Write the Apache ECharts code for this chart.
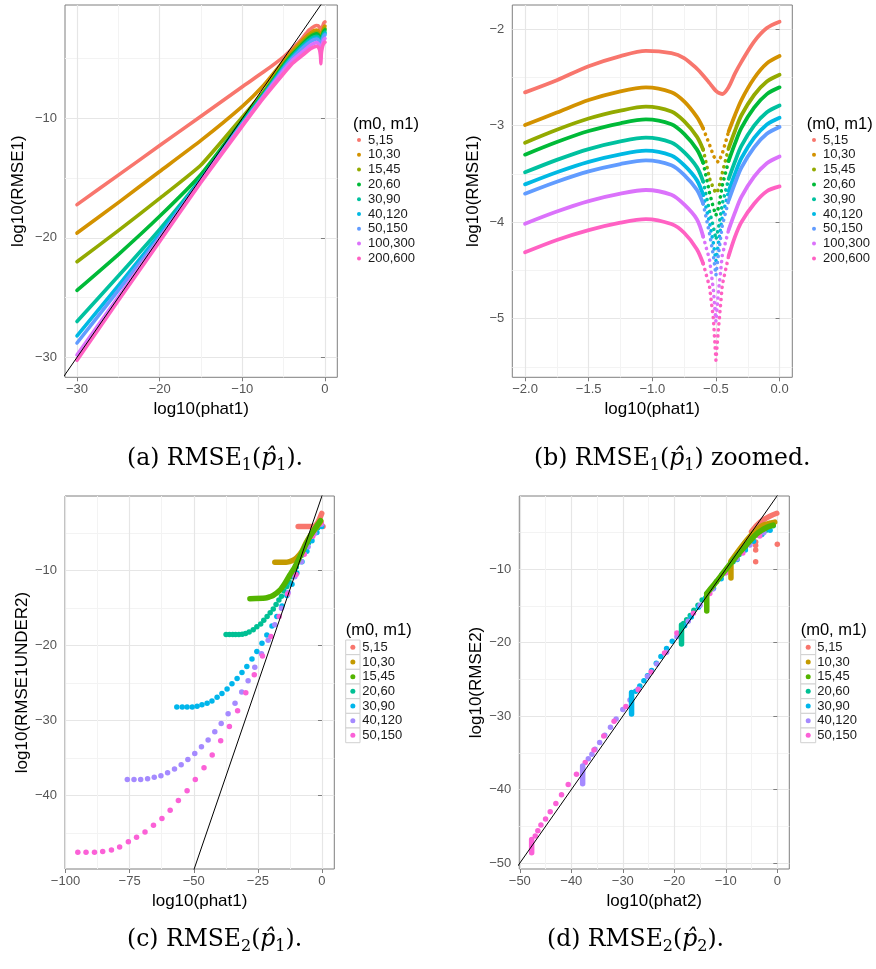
<!DOCTYPE html>
<html><head><meta charset="utf-8">
<script src="https://cdn.jsdelivr.net/npm/echarts@6/dist/echarts.min.js"></script>
<style>html,body{margin:0;padding:0;background:#fff}#c{width:876px;height:969px}</style>
</head><body><div id="c"></div>
<script>
// ---------- names & colours ----------
const NAMES9 = ['5,15','10,30','15,45','20,60','30,90','40,120','50,150','100,300','200,600'];
const NAMES7 = ['5,15','10,30','15,45','20,60','30,90','40,120','50,150'];
const COL9 = ['#F8766D','#D39200','#93AA00','#00BA38','#00C19F','#00B9E3','#619CFF','#DB72FB','#FF61C3'];
const COL7 = ['#F8766D','#C49A00','#53B400','#00C094','#00B6EB','#A58AFF','#FB61D7'];

// ---------- tick labels ----------
const TICKS_A_X = [-30,-20,-10,0],  MINOR_A_X = [-25,-15,-5];
const TICKS_A_Y = [-30,-20,-10],    MINOR_A_Y = [-25,-15,-5];
const TICKS_B_X = [-2,-1.5,-1,-0.5,0], MINOR_B_X = [-1.75,-1.25,-0.75,-0.25];
const TICKS_B_Y = [-5,-4,-3,-2],    MINOR_B_Y = [-5.5,-4.5,-3.5,-2.5];
const TICKS_C_X = [-100,-75,-50,-25,0], MINOR_C_X = [-87.5,-62.5,-37.5,-12.5];
const TICKS_C_Y = [-40,-30,-20,-10], MINOR_C_Y = [-45,-35,-25,-15,-5];
const TICKS_D_X = [-50,-40,-30,-20,-10,0], MINOR_D_X = [-45,-35,-25,-15,-5];
const TICKS_D_Y = [-50,-40,-30,-20,-10], MINOR_D_Y = [-45,-35,-25,-15,-5];

// ---------- panel (b): log10(phat1) in [-2,0] ----------
const X_B = [-2.0,-1.75,-1.5,-1.25,-1.05,-0.85,-0.75,-0.65,-0.6,-0.55,-0.52,-0.5,-0.48,-0.45,-0.4,-0.35,-0.3,-0.2,-0.1,0.0];
const B_5_15    = [-2.656,-2.53,-2.385,-2.28,-2.226,-2.25,-2.30,-2.41,-2.48,-2.56,-2.61,-2.64,-2.66,-2.673,-2.60,-2.46,-2.34,-2.13,-1.99,-1.924];
const B_10_30   = [-2.994,-2.865,-2.735,-2.645,-2.605,-2.655,-2.75,-2.91,-3.03,-3.20,-3.31,-3.36,-3.38,-3.29,-3.06,-2.89,-2.735,-2.51,-2.356,-2.28];
const B_15_45   = [-3.177,-3.043,-2.927,-2.845,-2.804,-2.854,-2.954,-3.114,-3.25,-3.55,-3.65,-3.70,-3.66,-3.49,-3.233,-3.053,-2.893,-2.683,-2.543,-2.473];
const B_20_60   = [-3.301,-3.170,-3.056,-2.976,-2.936,-2.986,-3.086,-3.246,-3.385,-3.70,-3.85,-3.93,-3.85,-3.62,-3.364,-3.184,-3.024,-2.814,-2.674,-2.604];
const B_30_90   = [-3.484,-3.355,-3.243,-3.164,-3.125,-3.175,-3.275,-3.43,-3.58,-3.89,-4.05,-4.18,-4.06,-3.81,-3.551,-3.371,-3.211,-3.001,-2.861,-2.791];
const B_40_120  = [-3.609,-3.483,-3.375,-3.298,-3.260,-3.31,-3.41,-3.565,-3.72,-4.01,-4.22,-4.40,-4.22,-3.94,-3.678,-3.498,-3.338,-3.128,-2.988,-2.918];
const B_50_150  = [-3.705,-3.581,-3.474,-3.398,-3.36,-3.41,-3.51,-3.665,-3.81,-4.12,-4.35,-4.55,-4.33,-4.035,-3.775,-3.595,-3.435,-3.225,-3.085,-3.015];
const B_100_300 = [-4.016,-3.890,-3.782,-3.705,-3.667,-3.717,-3.817,-3.97,-4.15,-4.39,-4.70,-5.03,-4.72,-4.34,-4.079,-3.899,-3.739,-3.529,-3.389,-3.319];
const B_200_600 = [-4.313,-4.185,-4.082,-4.005,-3.968,-4.02,-4.11,-4.28,-4.43,-4.67,-5.0,-5.43,-5.1,-4.65,-4.35,-4.15,-4.0,-3.81,-3.68,-3.63];

// ---------- panel (a): log10(phat1) in [-30,-3] (continues with panel b values) ----------
const X_A = [-30,-25,-20,-15,-10,-7.5,-5,-4,-3];
const A_5_15    = [-17.22,-14.75,-12.28,-9.82,-7.35,-6.15,-4.85,-4.2,-3.5];
const A_10_30   = [-19.6,-17.05,-14.45,-11.85,-9.0,-7.3,-5.2,-4.4,-3.65];
const A_15_45   = [-22.0,-19.4,-16.7,-13.9,-9.9,-7.85,-5.45,-4.6,-3.85];
const A_20_60   = [-24.4,-21.4,-18.2,-14.7,-10.2,-8.0,-5.55,-4.7,-3.98];
const A_30_90   = [-27.0,-23.2,-19.3,-15.05,-10.35,-8.1,-5.7,-4.85,-4.12];
const A_40_120  = [-28.2,-24.0,-19.7,-15.15,-10.45,-8.15,-5.78,-4.95,-4.23];
const A_50_150  = [-28.8,-24.4,-19.95,-15.2,-10.5,-8.2,-5.85,-5.02,-4.32];
const A_100_300 = [-29.8,-24.95,-20.1,-15.25,-10.55,-8.25,-6.0,-5.2,-4.6];
const A_200_600 = [-30.25,-25.25,-20.3,-15.35,-10.65,-8.35,-6.25,-5.45,-4.88];

// ---------- panel (c): [log10(phat1), log10(RMSE1UNDER2)] ----------
const C_5_15_BAND  = [[-9.3,-4.1],[-6,-4.1],[-3.0,-4.05],[-2.0,-3.75],[-1.0,-3.1],[-0.1,-2.35]];
const C_5_15_PTS   = [[0.4,-4.1]];
const C_10_30_BAND = [[-18.4,-8.88],[-15,-8.88],[-13.5,-8.85],[-12,-8.7],[-10,-8.3],[-8,-7.5],[-6.1,-6.2],[-4.1,-5.1],[-2.2,-4.2],[-0.5,-3.4]];
const C_15_45_BAND = [[-28.1,-13.73],[-22,-13.65],[-20.5,-13.5],[-19,-13.3],[-16.4,-12.6],[-14.5,-11.7],[-12.6,-10.6],[-10.6,-9.5],[-8.7,-8.2],[-6.7,-6.8],[-4.8,-5.5],[-2.8,-4.4],[-0.6,-3.3]];
const C_20_60 = [[-37.4,-18.53],[-36.1,-18.53],[-34.8,-18.53],[-33.7,-18.53],[-32.4,-18.52],[-31.1,-18.48],[-29.8,-18.4],[-28.4,-18.2],[-26.8,-17.9],[-25.4,-17.5],[-23.9,-17.1],[-22.7,-16.6],[-21.4,-16.1],[-20.2,-15.6],[-19.0,-15.1],[-17.9,-14.5],[-16.8,-13.9],[-15.8,-13.4],[-14.8,-12.7],[-13.7,-12.1],[-12.8,-11.5],[-11.8,-10.8],[-10.9,-10.2],[-10.0,-9.5],[-8.9,-8.8],[-7.7,-7.9],[-6.5,-7.1],[-5.3,-6.3],[-4.1,-5.6],[-2.9,-4.9],[-1.7,-4.3],[-0.5,-3.8]];
const C_30_90 = [[-56.6,-28.2],[-54.5,-28.2],[-52.6,-28.2],[-50.6,-28.2],[-48.7,-28.1],[-46.8,-27.9],[-44.8,-27.7],[-42.9,-27.4],[-40.9,-26.9],[-39.0,-26.4],[-37.0,-25.8],[-35.1,-25.1],[-33.1,-24.4],[-31.2,-23.6],[-29.3,-22.8],[-27.3,-21.8],[-25.4,-20.8],[-23.4,-19.7],[-21.5,-18.6],[-19.5,-17.4],[-17.6,-16.1],[-15.6,-14.7],[-13.7,-13.3],[-11.7,-11.8],[-9.8,-10.3],[-7.8,-8.8],[-5.9,-7.4],[-3.9,-6.0],[-2.0,-4.9],[-0.1,-4.1]];
const C_40_120 = [[-75.9,-37.9],[-73.3,-37.9],[-70.7,-37.9],[-68.0,-37.8],[-65.4,-37.6],[-62.8,-37.4],[-60.2,-37.0],[-57.5,-36.5],[-54.9,-35.9],[-52.3,-35.2],[-49.6,-34.4],[-47.0,-33.5],[-44.4,-32.6],[-41.8,-31.5],[-39.3,-30.4],[-36.6,-29.1],[-33.9,-27.7],[-31.3,-26.2],[-28.8,-24.7],[-26.2,-22.9],[-23.6,-21.1],[-21.0,-19.3],[-18.4,-17.2],[-15.8,-15.0],[-13.2,-12.9],[-10.6,-10.8],[-8.0,-8.8],[-5.4,-6.8],[-2.8,-5.0],[-0.2,-3.8]];
const C_50_150 = [[-95.2,-47.6],[-92.0,-47.6],[-88.7,-47.6],[-85.5,-47.5],[-82.1,-47.3],[-78.9,-46.9],[-75.5,-46.2],[-72.3,-45.6],[-69.0,-44.9],[-65.7,-44.0],[-62.4,-43.1],[-59.2,-42.0],[-56.0,-40.7],[-52.6,-39.4],[-49.4,-37.9],[-46.0,-36.3],[-42.8,-34.6],[-39.5,-32.7],[-36.1,-30.8],[-32.9,-28.7],[-29.7,-26.3],[-26.4,-23.9],[-23.2,-21.4],[-19.9,-18.8],[-16.7,-16.1],[-13.4,-13.1],[-10.1,-10.5],[-6.9,-7.8],[-3.6,-5.4],[-0.3,-3.6]];

// ---------- panel (d): [log10(phat2), log10(RMSE2)] ----------
const D_5_15_BAND  = [[-5.0,-4.9],[-4,-4.05],[-2.5,-3.2],[-1,-2.65],[-0.1,-2.4]];
const D_5_15_PTS   = [[-4.2,-6.3],[-4.2,-6.8],[-4.2,-7.4],[-4.2,-9.0],[0.0,-6.6]];
const D_10_30_CLUSTER = [[-9.0,-9.2],[-9.0,-11.2]];
const D_10_30_BAND = [[-9.0,-8.9],[-7,-7.0],[-5,-5.3],[-3,-4.1],[-1.5,-3.75],[-0.5,-3.6]];
const D_15_45_CLUSTER = [[-13.7,-13.5],[-13.7,-15.7]];
const D_15_45_BAND = [[-13.7,-13.3],[-12,-11.85],[-10,-10.05],[-8,-8.3],[-6,-6.7],[-4,-5.2],[-2,-4.3],[-0.8,-4.0]];
const D_20_60_CLUSTER = [[-18.6,-17.6],[-18.6,-20.2]];
const D_20_60 = [[-18.2,-17.4],[-17.6,-16.9],[-16.9,-16.3],[-16.2,-15.6],[-15.4,-14.9],[-14.6,-14.2],[-13.7,-13.4],[-12.8,-12.6],[-11.8,-11.7],[-10.8,-10.8],[-9.7,-9.9],[-8.6,-9.0],[-7.4,-8.0],[-6.2,-7.1],[-4.9,-6.2],[-3.6,-5.4],[-2.2,-4.7],[-0.8,-4.1]];
const D_30_90_CLUSTER = [[-28.3,-26.8],[-28.3,-29.7]];
const D_30_90 = [[-27.5,-26.6],[-26.7,-25.9],[-25.9,-25.2],[-25.2,-24.5],[-24.4,-23.8],[-23.5,-22.8],[-22.6,-21.9],[-21.5,-20.8],[-20.4,-19.8],[-19.3,-18.8],[-18.0,-17.7],[-16.7,-16.5],[-15.3,-15.2],[-13.9,-13.9],[-12.4,-12.6],[-10.9,-11.3],[-9.4,-10.0],[-7.8,-8.7],[-6.2,-7.4],[-4.6,-6.2],[-3.0,-5.3],[-1.4,-4.7]];
const D_40_120_CLUSTER = [[-37.8,-36.8],[-37.8,-39.2]];
const D_40_120 = [[-36.7,-35.8],[-36.0,-35.2],[-35.4,-34.5],[-34.5,-33.6],[-33.5,-32.6],[-32.4,-31.5],[-31.3,-30.4],[-30.0,-29.1],[-28.6,-27.8],[-27.0,-26.3],[-25.2,-24.6],[-23.4,-22.9],[-21.5,-21.3],[-19.5,-19.2],[-17.3,-17.1],[-15.0,-14.9],[-12.5,-12.7],[-10.0,-10.5],[-7.8,-8.6],[-5.3,-6.7],[-2.6,-5.0]];
const D_50_150_CLUSTER = [[-47.7,-46.8],[-47.7,-48.6]];
const D_50_150 = [[-47.0,-46.3],[-46.5,-45.6],[-45.9,-44.8],[-45.0,-44.0],[-44.1,-43.0],[-43.0,-41.9],[-41.9,-40.7],[-40.6,-39.3],[-39.0,-37.9],[-37.3,-36.3],[-35.6,-34.6],[-33.7,-32.7],[-31.7,-30.7],[-29.4,-28.7],[-27.0,-26.4],[-24.5,-24.0],[-21.9,-21.4],[-19.5,-18.7],[-16.3,-16.0],[-13.1,-13.3],[-10.1,-10.5],[-6.7,-7.8],[-3.4,-5.5]];

// reference line y = x
const DIAG = [[-200,-200],[20,20]];

// ---------- build ----------
const FONT = 'Liberation Sans';
const A_ALL = [A_5_15,A_10_30,A_15_45,A_20_60,A_30_90,A_40_120,A_50_150,A_100_300,A_200_600];
const B_ALL = [B_5_15,B_10_30,B_15_45,B_20_60,B_30_90,B_40_120,B_50_150,B_100_300,B_200_600];
const pairs = (xs, ys) => xs.map((x,i)=>[x, ys[i]]);
const minus = v => String(v).replace('-', '\u2212');
const minus1 = v => Number(v).toFixed(1).replace('-', '\u2212');

const grids = [
  {left:65, top:5, width:272.3, height:372.3},
  {left:512.3, top:5, width:280, height:372.3},
  {left:65, top:496, width:269.3, height:373},
  {left:519.3, top:496, width:270, height:373}
].map(g => Object.assign(g, {show:true, borderColor:'#7f7f7f', borderWidth:1, backgroundColor:'#fff', containLabel:false, outerBoundsMode:'none'}));

const xAxes = [], yAxes = [];
function addAxes(list, g, dim, min, max, ticks, minor, fmt, name, nameGap) {
  list.push({
    type:'value', gridIndex:g, min, max, position: dim==='x'?'bottom':'left',
    name, nameLocation:'middle', nameGap, nameRotate: dim==='y'?90:0, nameMoveOverlap:false,
    nameTextStyle:{fontSize:17, color:'#000', fontFamily:FONT},
    axisLine:{show:false},
    axisTick:{show:true, customValues:ticks, length:4, lineStyle:{color:'#7f7f7f', width:1}},
    axisLabel:{show:true, customValues:ticks, formatter:fmt, fontSize:13, color:'#555', fontFamily:FONT, margin: dim==='x'?6:8},
    splitLine:{show:true, lineStyle:{color:'#e6e6e6', width:1.2}},
    minorTick:{show:false}, minorSplitLine:{show:false}
  });
  list.push({
    type:'value', gridIndex:g, min, max, position: dim==='x'?'top':'right',
    axisLine:{show:false}, axisTick:{show:false, customValues:minor}, axisLabel:{show:false},
    splitLine:{show:true, lineStyle:{color:'#f3f3f3', width:1}}
  });
}
addAxes(xAxes,0,'x',-31.45,1.49,TICKS_A_X,MINOR_A_X,minus,'log10(phat1)',24);
addAxes(yAxes,0,'y',-31.67,-0.516,TICKS_A_Y,MINOR_A_Y,minus,'log10(RMSE1)',38);
addAxes(xAxes,1,'x',-2.1,0.1,TICKS_B_X,MINOR_B_X,minus1,'log10(phat1)',24);
addAxes(yAxes,1,'y',-5.607,-1.751,TICKS_B_Y,MINOR_B_Y,minus,'log10(RMSE1)',30);
addAxes(xAxes,2,'x',-100.2,4.8,TICKS_C_X,MINOR_C_X,minus,'log10(phat1)',24);
addAxes(yAxes,2,'y',-49.84,-0.02,TICKS_C_Y,MINOR_C_Y,minus,'log10(RMSE1UNDER2)',34);
addAxes(xAxes,3,'x',-50.1,2.33,TICKS_D_X,MINOR_D_X,minus,'log10(phat2)',24);
addAxes(yAxes,3,'y',-50.8,-0.05,TICKS_D_Y,MINOR_D_Y,minus,'log10(RMSE2)',34);

const series = [];
function line(name, g, data, color, width, extra) {
  return Object.assign({name, type:'line', xAxisIndex:2*g, yAxisIndex:2*g, data, symbol:'none', showSymbol:false,
    smooth:0.25, silent:true, animation:false, clip:true,
    lineStyle:{color, width, cap:'round', join:'round'}, itemStyle:{color}}, extra||{});
}
function dots(name, g, data, color, size) {
  return {name, type:'scatter', xAxisIndex:2*g, yAxisIndex:2*g, data, symbol:'circle', symbolSize:size,
    silent:true, animation:false, itemStyle:{color, opacity:1}};
}
// (a)
NAMES9.forEach((n,i)=>{
  series.push(line(n,0,pairs(X_A,A_ALL[i]).concat(pairs(X_B,B_ALL[i])),COL9[i],3.6,{smooth:0.15}));
});
series.push(line('ref',0,DIAG,'#000',1,{smooth:false, z:5}));
// (b)
const DIP_L = -0.6, DIP_R = -0.4;
NAMES9.forEach((n,i)=>{
  const pts = pairs(X_B,B_ALL[i]);
  if (i===0) { series.push(line(n,1,pts,COL9[i],3.8,{smooth:0.3})); return; }
  series.push(line(n,1,pts.filter(p=>p[0]<=DIP_L),COL9[i],3.8,{smooth:0.3}));
  series.push(line(n,1,pts.filter(p=>p[0]>=DIP_L && p[0]<=DIP_R),COL9[i],3.6,
    {smooth:false, lineStyle:{color:COL9[i], width:3.6, cap:'round', join:'round', type:[0.1,6]}}));
  series.push(line(n,1,pts.filter(p=>p[0]>=DIP_R),COL9[i],3.8,{smooth:0.3}));
});
// (c)
series.push(line('5,15',2,C_5_15_BAND,COL7[0],5.5));
series.push(dots('5,15',2,C_5_15_PTS,COL7[0],5.5));
series.push(line('10,30',2,C_10_30_BAND,COL7[1],5.5));
series.push(line('15,45',2,C_15_45_BAND,COL7[2],5.5));
series.push(dots('20,60',2,C_20_60,COL7[3],5.5));
series.push(dots('30,90',2,C_30_90,COL7[4],5.5));
series.push(dots('40,120',2,C_40_120,COL7[5],5.5));
series.push(dots('50,150',2,C_50_150,COL7[6],5.5));
series.push(line('ref',2,DIAG,'#000',1,{smooth:false, z:5}));
// (d)
series.push(line('5,15',3,D_5_15_BAND,COL7[0],5.5));
series.push(dots('5,15',3,D_5_15_PTS,COL7[0],5.5));
series.push(line('10,30',3,D_10_30_CLUSTER,COL7[1],5.5,{smooth:false}));
series.push(line('10,30',3,D_10_30_BAND,COL7[1],5.5));
series.push(line('15,45',3,D_15_45_CLUSTER,COL7[2],5.5,{smooth:false}));
series.push(line('15,45',3,D_15_45_BAND,COL7[2],5.5));
series.push(line('20,60',3,D_20_60_CLUSTER,COL7[3],5.5,{smooth:false}));
series.push(dots('20,60',3,D_20_60,COL7[3],5.5));
series.push(line('30,90',3,D_30_90_CLUSTER,COL7[4],5.5,{smooth:false}));
series.push(dots('30,90',3,D_30_90,COL7[4],5.5));
series.push(line('40,120',3,D_40_120_CLUSTER,COL7[5],5.5,{smooth:false}));
series.push(dots('40,120',3,D_40_120,COL7[5],5.5));
series.push(line('50,150',3,D_50_150_CLUSTER,COL7[6],5.5,{smooth:false}));
series.push(dots('50,150',3,D_50_150,COL7[6],5.5));
series.push(line('ref',3,DIAG,'#000',1,{smooth:false, z:5}));

// legends
function legend(left, top, names, cols, iw, gap, pad) {
  return {orient:'vertical', left, top, padding:0, itemGap:gap, itemWidth:iw, itemHeight:iw, icon:'circle',
    selectedMode:false,
    textStyle:{fontSize:13, lineHeight:13, color:'#1a1a1a', fontFamily:FONT, padding:[0,0,0,pad]},
    data: names.map((n,i)=>({name:n, icon:'circle', itemStyle:{color:cols[i], borderWidth:0}}))};
}
const legends = [
  legend(357,133.5,NAMES9,COL9,4,1.8,2),
  legend(812,133.5,NAMES9,COL9,4,1.8,2),
  legend(350.35,640.8,NAMES7,COL7,5,1.67,2),
  legend(805.7,640.8,NAMES7,COL7,5,1.67,1.6)
];

// graphics: legend titles, key boxes, captions
const graphics = [];
[[353,124],[806.7,124],[345.7,630.7],[800.7,630.7]].forEach(([x,y])=>{
  graphics.push({type:'text', x, y, z:10, style:{text:'(m0, m1)', fontSize:16.5, fontFamily:FONT, fill:'#000', verticalAlign:'middle', align:'left'}});
});
[[345.7,14.3],[800.7,15]].forEach(([x,w])=>{
  for (let i=0;i<7;i++) graphics.push({type:'rect', z:0, shape:{x, y:640+14.67*i, width:w, height:14.67},
    style:{fill:'#fff', stroke:'#d0d0d0', lineWidth:1}});
});
const capRich = {
  s:{fontSize:16, lineHeight:16, verticalAlign:'bottom', fontFamily:'DejaVu Serif', fill:'#000'},
  it:{fontSize:23.5, fontStyle:'italic', fontFamily:'DejaVu Serif', fill:'#000'}
};
[[127,459,'(a) RMSE{s|1}({it|p\u0302}{s|1}).'],
 [534,459,'(b) RMSE{s|1}({it|p\u0302}{s|1}) zoomed.'],
 [127,940,'(c) RMSE{s|2}({it|p\u0302}{s|1}).'],
 [547,940,'(d) RMSE{s|2}({it|p\u0302}{s|2}).']].forEach(([x,y,t])=>{
  graphics.push({type:'text', x, y, z:10, style:{text:t, rich:capRich, fontSize:23.5, lineHeight:30, fontFamily:'DejaVu Serif', fill:'#000', verticalAlign:'middle', align:'left'}});
});

const chart = echarts.init(document.getElementById('c'), null, {renderer:'canvas', width:876, height:969});
chart.setOption({
  animation:false, backgroundColor:'#fff',
  grid:grids, xAxis:xAxes, yAxis:yAxes, legend:legends, series, graphic:graphics
});
</script></body></html>
